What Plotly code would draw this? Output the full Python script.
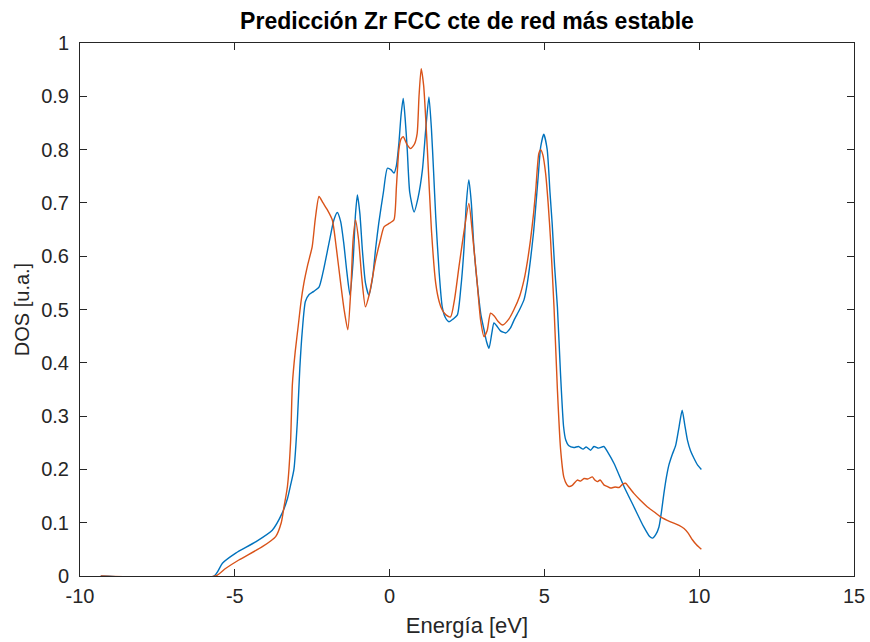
import plotly.graph_objects as go

# Series 1 (blue)
e_blue = [-9.33, -5.67, -5.40, -4.97, -4.33, -3.79, -3.47, -3.30, -3.20, -3.09, -2.98, -2.90, -2.82, -2.72,
          -2.60, -2.45, -2.28, -2.15, -1.96, -1.80, -1.69, -1.58, -1.48, -1.38, -1.28, -1.18, -1.10, -1.04,
          -0.96, -0.88, -0.78, -0.67, -0.55, -0.45, -0.35, -0.20, -0.07, 0.05, 0.14, 0.22, 0.30, 0.37, 0.44,
          0.50, 0.57, 0.65, 0.79, 0.92, 1.06, 1.17, 1.27, 1.35, 1.42, 1.49, 1.60, 1.70, 1.80, 1.92, 2.05,
          2.19, 2.30, 2.40, 2.48, 2.56, 2.64, 2.72, 2.83, 2.95, 3.05, 3.13, 3.21, 3.30, 3.37, 3.45, 3.58,
          3.75, 3.90, 4.02, 4.20, 4.34, 4.45, 4.55, 4.65, 4.72, 4.80, 4.88, 4.98, 5.09, 5.18, 5.25, 5.33,
          5.42, 5.52, 5.62, 5.69, 5.78, 5.95, 6.10, 6.25, 6.35, 6.49, 6.60, 6.75, 6.92, 7.05, 7.25, 7.57,
          7.89, 8.21, 8.40, 8.49, 8.60, 8.70, 8.78, 8.86, 8.94, 9.02, 9.13, 9.24, 9.35, 9.45, 9.53, 9.62,
          9.72, 9.83, 9.95, 10.07]
dos_blue = [0.0, 0.0, 0.024, 0.043, 0.064, 0.086, 0.118, 0.145, 0.17, 0.20, 0.29, 0.39, 0.46, 0.515,
            0.528, 0.534, 0.542, 0.57, 0.624, 0.668, 0.682, 0.665, 0.624, 0.57, 0.527, 0.59, 0.68, 0.715,
            0.68, 0.612, 0.55, 0.527, 0.56, 0.615, 0.662, 0.72, 0.765, 0.762, 0.756, 0.77, 0.812, 0.865, 0.896,
            0.86, 0.80, 0.72, 0.683, 0.71, 0.762, 0.84, 0.899, 0.84, 0.76, 0.674, 0.57, 0.505, 0.485, 0.477, 0.482,
            0.49, 0.54, 0.612, 0.70, 0.743, 0.70, 0.62, 0.549, 0.49, 0.462, 0.44, 0.427, 0.455, 0.475, 0.47, 0.46,
            0.456, 0.465, 0.48, 0.50, 0.518, 0.55, 0.593, 0.645, 0.693, 0.75, 0.805, 0.829, 0.80, 0.72, 0.662, 0.58,
            0.505, 0.38, 0.28, 0.255, 0.245, 0.241, 0.243, 0.238, 0.242, 0.236, 0.243, 0.240, 0.243, 0.232, 0.211, 0.168,
            0.130, 0.092, 0.074, 0.071, 0.078, 0.092, 0.12, 0.155, 0.185, 0.208, 0.228, 0.245, 0.28, 0.311, 0.285, 0.255,
            0.235, 0.221, 0.208, 0.20]

# Series 2 (orange)
e_orange = [-9.33, -5.62, -5.30, -4.87, -4.11, -3.68, -3.50, -3.41, -3.30, -3.20, -3.14, -3.05, -2.95, -2.86,
            -2.77, -2.64, -2.50, -2.40, -2.28, -2.15, -2.01, -1.85, -1.72, -1.58, -1.47, -1.35, -1.25, -1.18,
            -1.10, -1.00, -0.90, -0.78, -0.65, -0.45, -0.30, -0.18, 0.00, 0.14, 0.22, 0.30, 0.37, 0.44, 0.56,
            0.68, 0.80, 0.89, 0.95, 1.02, 1.10, 1.22, 1.35, 1.49, 1.60, 1.70, 1.82, 1.97, 2.10, 2.24, 2.40,
            2.56, 2.68, 2.83, 2.94, 3.05, 3.15, 3.26, 3.38, 3.50, 3.65, 3.85, 4.01, 4.20, 4.34, 4.45, 4.55,
            4.65, 4.72, 4.82, 4.88, 4.95, 5.04, 5.12, 5.20, 5.31, 5.42, 5.52, 5.63, 5.72, 5.79, 5.90, 6.06,
            6.17, 6.28, 6.40, 6.55, 6.63, 6.71, 6.80, 6.92, 7.03, 7.14, 7.28, 7.41, 7.52, 7.62, 7.75, 7.89,
            8.10, 8.32, 8.55, 8.75, 8.95, 9.18, 9.35, 9.51, 9.65, 9.78, 9.92, 10.07]
dos_orange = [0.0, 0.0, 0.014, 0.030, 0.055, 0.074, 0.10, 0.130, 0.168, 0.25, 0.36, 0.42, 0.47, 0.515,
              0.549, 0.585, 0.618, 0.67, 0.712, 0.70, 0.687, 0.668, 0.615, 0.549, 0.50, 0.462, 0.54, 0.63,
              0.668, 0.63, 0.56, 0.505, 0.53, 0.593, 0.63, 0.655, 0.662, 0.668, 0.73, 0.80, 0.82, 0.824, 0.81,
              0.802, 0.81, 0.83, 0.90, 0.952, 0.92, 0.80, 0.65, 0.549, 0.515, 0.499, 0.49, 0.486, 0.52, 0.58, 0.645,
              0.699, 0.64, 0.549, 0.48, 0.449, 0.46, 0.493, 0.488, 0.478, 0.471, 0.482, 0.499, 0.525, 0.555, 0.59, 0.63,
              0.68, 0.724, 0.793, 0.80, 0.79, 0.755, 0.70, 0.63, 0.505, 0.35, 0.24, 0.185, 0.172, 0.168, 0.170, 0.18,
              0.178, 0.183, 0.182, 0.186, 0.180, 0.177, 0.18, 0.171, 0.168, 0.165, 0.167, 0.166, 0.172, 0.174, 0.165, 0.155,
              0.142, 0.130, 0.120, 0.111, 0.105, 0.099, 0.095, 0.089, 0.080, 0.068, 0.058, 0.05]

x_ticks = [-10, -5, 0, 5, 10, 15]
y_ticks = [0, 0.1, 0.2, 0.3, 0.4, 0.5, 0.6, 0.7, 0.8, 0.9, 1]
y_tick_text = ["0", "0.1", "0.2", "0.3", "0.4", "0.5", "0.6", "0.7", "0.8", "0.9", "1"]

title_text = "Predicción Zr FCC cte de red más estable"
x_title = "Energía [eV]"
y_title = "DOS [u.a.]"

BLUE = "#0072BD"
ORANGE = "#D95319"
AX = "#262626"
FONT = "Liberation Sans, Arial, sans-serif"

fig = go.Figure()
fig.add_trace(go.Scatter(x=e_blue, y=dos_blue, mode="lines",
                         line=dict(color=BLUE, width=1.4, shape="spline", smoothing=0.6)))
fig.add_trace(go.Scatter(x=e_orange, y=dos_orange, mode="lines",
                         line=dict(color=ORANGE, width=1.4, shape="spline", smoothing=0.6)))

axis_common = dict(
    showgrid=False, zeroline=False, showline=True, linecolor=AX, linewidth=1,
    mirror="allticks", ticks="inside", ticklen=7, tickwidth=1, tickcolor=AX,
    tickfont=dict(family=FONT, size=20, color=AX), automargin=False,
)

fig.update_layout(
    width=870, height=642,
    margin=dict(l=80, r=16, t=43, b=66),
    paper_bgcolor="white", plot_bgcolor="white",
    showlegend=False,
    hovermode=False,
    title=dict(text="<b>" + title_text + "</b>", x=(80 + 854) / 2 / 870, xanchor="center",
               y=1 - 21 / 642, yanchor="middle",
               font=dict(family=FONT, size=23, color="black")),
    xaxis=dict(range=[-10, 15], tickvals=x_ticks, ticktext=[str(v) for v in x_ticks],
               ticklabelstandoff=2,
               title=dict(text=x_title, font=dict(family=FONT, size=22, color=AX), standoff=11),
               **axis_common),
    yaxis=dict(range=[0, 1], tickvals=y_ticks, ticktext=y_tick_text,
               ticklabelstandoff=6,
               title=dict(text=y_title, font=dict(family=FONT, size=20, color=AX), standoff=6),
               **axis_common),
)

fig.write_html("out.html", config={"displayModeBar": False})
